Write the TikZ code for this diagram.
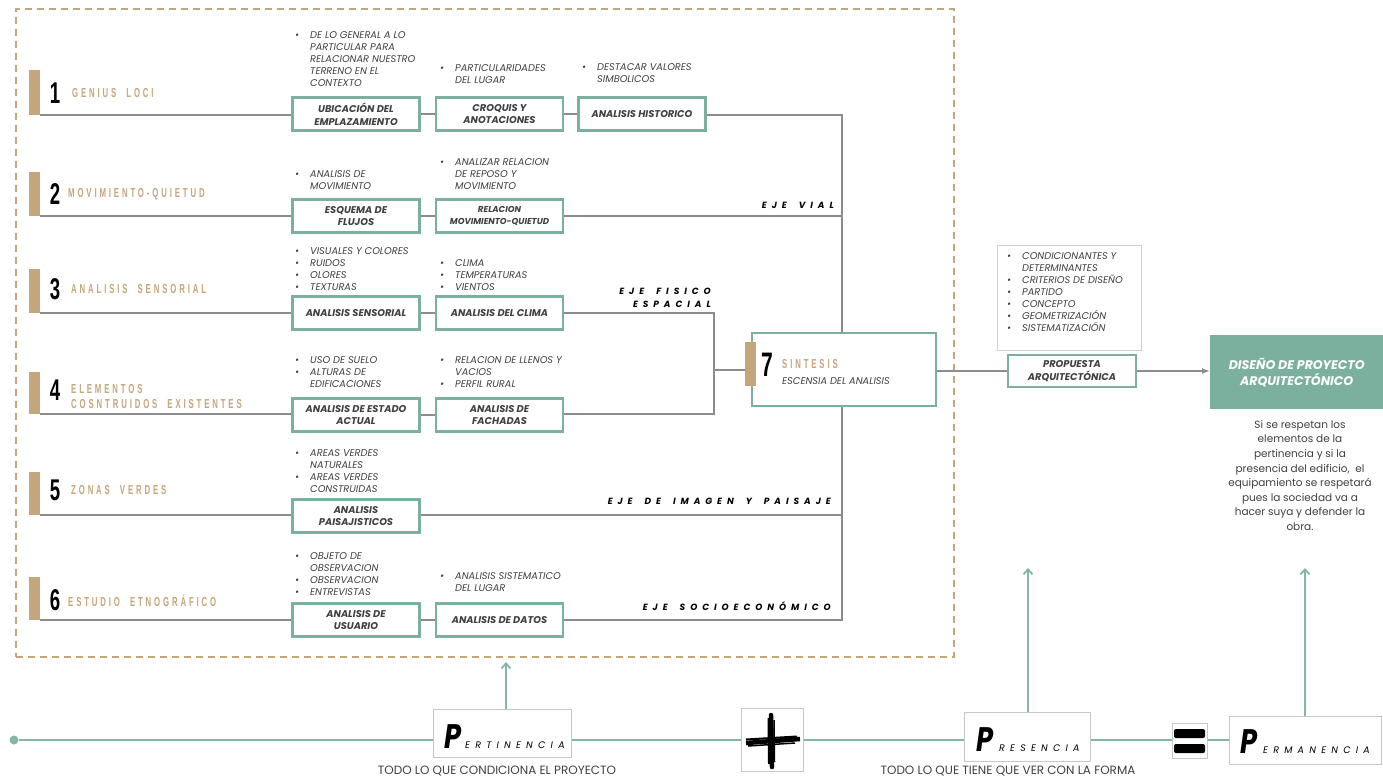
\documentclass[tikz,border=0pt]{standalone}
\usepackage{fontspec}
\setmainfont{Poppins}
\newfontfamily\condfont[FakeStretch=0.6,LetterSpace=22]{Liberation Sans}
\newfontfamily\numfont[FakeStretch=0.62]{Liberation Sans}
\newfontfamily\ejefont[LetterSpace=55]{Poppins}
\newfontfamily\pfont[FakeStretch=0.8]{Poppins}
\newfontfamily\capfont{Poppins}
\usetikzlibrary{arrows.meta}
\definecolor{tanc}{RGB}{196,166,124}
\definecolor{grn}{RGB}{124,176,158}
\definecolor{lgrn}{RGB}{132,182,166}
\definecolor{lnc}{RGB}{140,140,140}
\definecolor{txt}{RGB}{64,64,64}
\newcommand{\bi}{\makebox[16pt][l]{\hspace{1pt}\textbullet}}
\newcommand{\bc}{\hspace*{16pt}}
\newcommand{\fs}{\rule{0pt}{9.5pt}}
\newcommand{\ws}{\hspace{5pt} }
\begin{document}
\begin{tikzpicture}[x=1pt,y=-1pt,
 abox/.style={draw=grn, line width=2.4pt, fill=white, minimum width=127pt, minimum height=33pt, inner sep=1pt, align=center, text=txt, font=\fontsize{9.8}{12.5}\selectfont\bfseries\itshape},
 blist/.style={anchor=north west, inner sep=0pt, align=left, text=txt, font=\fontsize{9.8}{12}\selectfont\itshape},
 rl/.style={draw=lnc, line width=1.3pt},
 tbar/.style={fill=tanc, inner sep=0, minimum width=11pt},
 num/.style={inner sep=0, font=\numfont\fontsize{30}{30}\selectfont\bfseries},
 rowlab/.style={anchor=west, inner sep=0, align=left, text=tanc, font=\condfont\fontsize{13}{15}\selectfont\bfseries},
 eje/.style={anchor=base east, inner sep=0, font=\ejefont\fontsize{9}{13}\selectfont\bfseries\itshape},
 pbox/.style={draw=black!22, line width=0.8pt, fill=white, inner sep=0},
 garrow/.style={draw=lgrn, line width=1.8pt, -{Straight Barb[length=5pt,width=9pt]}},
 bigp/.style={inner sep=0, font=\pfont\fontsize{34}{34}\selectfont\bfseries\itshape},
 smallp/.style={inner sep=0, font=\ejefont\fontsize{9.5}{12}\selectfont\itshape},
 gline/.style={draw=lgrn, line width=2.6pt}
]
\useasboundingbox (0,0) rectangle (1383,780);
\fill[white] (0,0) rectangle (1383,780);

% frame
\node[draw=tanc, dash pattern=on 7pt off 5pt, line width=1.6pt, minimum width=938pt, minimum height=648pt, anchor=north west, inner sep=0] (frame) at (15,8) {};

% collector coordinates
\coordinate (v1) at (842,115);
\coordinate (v2) at (842,216);
\coordinate (v5) at (842,515);
\coordinate (v6) at (842,620);
\coordinate (c3) at (714,313);
\coordinate (c4) at (714,414);
\coordinate (c34) at (714,370);

% bars and numbers
\node[tbar, minimum height=45pt, anchor=south west] (bar1) at (29,115) {};
\node[tbar, minimum height=44pt, anchor=south west] (bar2) at (29,216) {};
\node[tbar, minimum height=44pt, anchor=south west] (bar3) at (29,313) {};
\node[tbar, minimum height=42pt, anchor=south west] (bar4) at (29,414) {};
\node[tbar, minimum height=43pt, anchor=south west] (bar5) at (29,515) {};
\node[tbar, minimum height=43pt, anchor=south west] (bar6) at (29,620) {};
\node[num] (n1) at (55,93) {1};
\node[num] (n2) at (55,194) {2};
\node[num] (n3) at (55,289) {3};
\node[num] (n4) at (55,390) {4};
\node[num] (n5) at (55,490) {5};
\node[num] (n6) at (55,600) {6};
\node[rowlab] (l1) at (72,93) {GENIUS\ws LOCI};
\node[rowlab] (l2) at (68,194) {MOVIMIENTO-QUIETUD};
\node[rowlab] (l3) at (71,289) {ANALISIS\ws SENSORIAL};
\node[rowlab] (l4) at (71,397) {ELEMENTOS\\COSNTRUIDOS\ws EXISTENTES};
\node[rowlab] (l5) at (71,490) {ZONAS\ws VERDES};
\node[rowlab] (l6) at (68,601) {ESTUDIO\ws ETNOGRÁFICO};

% boxes
\node[abox] (b11) at (356,114) {UBICACIÓN DEL\\EMPLAZAMIENTO};
\node[abox] (b12) at (499.5,114) {CROQUIS Y\\ANOTACIONES};
\node[abox] (b13) at (642,114) {ANALISIS HISTORICO};
\node[abox] (b21) at (356,216) {ESQUEMA DE\\FLUJOS};
\node[abox, font=\fontsize{8.6}{12}\selectfont\bfseries\itshape] (b22) at (499.5,216) {RELACION\\MOVIMIENTO-QUIETUD};
\node[abox] (b31) at (356,313) {ANALISIS SENSORIAL};
\node[abox] (b32) at (499.5,313) {ANALISIS DEL CLIMA};
\node[abox] (b41) at (356,415) {ANALISIS DE ESTADO\\ACTUAL};
\node[abox] (b42) at (499.5,415) {ANALISIS DE\\FACHADAS};
\node[abox] (b51) at (356,516) {ANALISIS\\PAISAJISTICOS};
\node[abox] (b61) at (356,620) {ANALISIS DE\\USUARIO};
\node[abox] (b62) at (499.5,620) {ANALISIS DE DATOS};

% row lines
\draw[rl] (bar1.south east) -- (bar1.south east -| b11.west);
\draw[rl] (b11.east) -- (b12.west);
\draw[rl] (b12.east) -- (b13.west);
\draw[rl] (b13.east |- v1) -- (v1) -- (v6) -- (b62.east |- v6);
\draw[rl] (bar2.south east) -- (bar2.south east -| b21.west);
\draw[rl] (b21.east) -- (b22.west);
\draw[rl] (b22.east) -- (v2);
\draw[rl] (bar3.south east) -- (bar3.south east -| b31.west);
\draw[rl] (b31.east) -- (b32.west);
\draw[rl] (b32.east |- c3) -- (c3) -- (c4) -- (b42.east |- c4);
\draw[rl] (bar4.south east) -- (bar4.south east -| b41.west);
\draw[rl] (b41.east) -- (b42.west);
\draw[rl] (bar5.south east) -- (bar5.south east -| b51.west);
\draw[rl] (b51.east |- v5) -- (v5);
\draw[rl] (bar6.south east) -- (bar6.south east -| b61.west);
\draw[rl] (b61.east) -- (b62.west);

% bullet lists
\node[blist] (t11) at (294,29) {\fs\bi DE LO GENERAL A LO\\\bc PARTICULAR PARA\\\bc RELACIONAR NUESTRO\\\bc TERRENO EN EL\\\bc CONTEXTO};
\node[blist] (t12) at (439,62) {\fs\bi PARTICULARIDADES\\\bc DEL LUGAR};
\node[blist] (t13) at (581,61) {\fs\bi DESTACAR VALORES\\\bc SIMBOLICOS};
\node[blist] (t21) at (294,168) {\fs\bi ANALISIS DE\\\bc MOVIMIENTO};
\node[blist] (t22) at (439,156) {\fs\bi ANALIZAR RELACION\\\bc DE REPOSO Y\\\bc MOVIMIENTO};
\node[blist] (t31) at (294,245) {\fs\bi VISUALES Y COLORES\\\bi RUIDOS\\\bi OLORES\\\bi TEXTURAS};
\node[blist] (t32) at (439,257) {\fs\bi CLIMA\\\bi TEMPERATURAS\\\bi VIENTOS};
\node[blist] (t41) at (294,354) {\fs\bi USO DE SUELO\\\bi ALTURAS DE\\\bc EDIFICACIONES};
\node[blist] (t42) at (439,354) {\fs\bi RELACION DE LLENOS Y\\\bc VACIOS\\\bi PERFIL RURAL};
\node[blist] (t51) at (294,447) {\fs\bi AREAS VERDES\\\bc NATURALES\\\bi AREAS VERDES\\\bc CONSTRUIDAS};
\node[blist] (t61) at (294,550) {\fs\bi OBJETO DE\\\bc OBSERVACION\\\bi OBSERVACION\\\bi ENTREVISTAS};
\node[blist] (t62) at (439,570) {\fs\bi ANALISIS SISTEMATICO\\\bc DEL LUGAR};

% eje labels
\node[eje] (e1) at (834,208) {EJE\ws VIAL};
\node[eje] (e2) at (711,294) {EJE\ws FISICO};
\node[eje] (e3) at (711,307) {ESPACIAL};
\node[eje] (e4) at (831,504) {EJE\ws DE\ws IMAGEN\ws Y\ws PAISAJE};
\node[eje] (e5) at (831,610) {EJE\ws SOCIOECONÓMICO};

% sintesis
\node[draw=grn, line width=2.4pt, fill=white, minimum width=184pt, minimum height=73pt, anchor=north west, inner sep=0] (s7) at (751,332) {};
\node[tbar, minimum height=44pt] (s7bar) at (750.5,364) {};
\draw[rl] (c34) -- (c34 -| s7bar.west);
\node[num, font=\numfont\fontsize{34}{34}\selectfont\bfseries] (n7) at (767,365) {7};
\node[rowlab] (l7) at (782,364) {SINTESIS};
\node[anchor=west, inner sep=0, text=txt, font=\fontsize{9.8}{10}\selectfont\itshape] (l7b) at (782,381) {ESCENSIA DEL ANALISIS};

% propuesta
\node[draw=black!18, line width=0.8pt, minimum width=144pt, minimum height=105pt, anchor=north west, inner sep=0] (cbox) at (997,245) {};
\node[blist] (tc) at (1006,250) {\fs\bi CONDICIONANTES Y\\\bc DETERMINANTES\\\bi CRITERIOS DE DISEÑO\\\bi PARTIDO\\\bi CONCEPTO\\\bi GEOMETRIZACIÓN\\\bi SISTEMATIZACIÓN};
\node[abox, minimum width=128pt, minimum height=32pt] (prop) at (1072,371) {PROPUESTA\\ARQUITECTÓNICA};
\draw[rl] (s7.east |- prop.west) -- (prop.west);
\node[fill=grn, minimum width=173pt, minimum height=74pt, anchor=north west, inner sep=0, align=center, text=white, font=\fontsize{12.5}{16}\selectfont\bfseries\itshape] (dis) at (1210,335) {DISEÑO DE PROYECTO\\ARQUITECTÓNICO};
\draw[rl, -{Latex[length=8pt,width=6pt]}] (prop.east) -- (prop.east -| dis.west);
\node[anchor=north, inner sep=0, align=center, text=txt, font=\fontsize{10.5}{14.6}\selectfont] (par) at (1300,420) {Si se respetan los\\elementos de la\\pertinencia y si la\\presencia del edificio,\ \ el\\equipamiento se respetará\\pues la sociedad va a\\hacer suya y defender la\\obra.};

% bottom line
\node[circle, fill=lgrn, minimum size=9pt, inner sep=0] (dot) at (14,740) {};
\node[pbox, minimum width=138pt, minimum height=48pt, anchor=north west] (pert) at (433,709) {};
\node[pbox, minimum width=62pt, minimum height=63pt, anchor=north west] (plus) at (741,708) {};
\node[pbox, minimum width=126pt, minimum height=49pt, anchor=north west] (pres) at (964,712) {};
\node[pbox, minimum width=35pt, minimum height=35pt, anchor=north west] (eq) at (1172,723) {};
\node[pbox, minimum width=152pt, minimum height=48pt, anchor=north west] (perm) at (1229,716) {};
\draw[gline] (dot.east) -- (dot -| pert.west);
\draw[gline] (pert.east |- dot) -- (plus.west |- dot);
\draw[gline] (plus.east |- dot) -- (pres.west |- dot);
\draw[gline] (pres.east |- dot) -- (eq.west |- dot);
\draw[gline] (eq.east |- dot) -- (perm.west |- dot);

% P words
\node[bigp, anchor=base west] (p1) at (444,748) {P};
\node[smallp, anchor=base west] (p1b) at (465,748) {ERTINENCIA};
\node[bigp, anchor=base west] (p2) at (976,751) {P};
\node[smallp, anchor=base west] (p2b) at (999,751) {RESENCIA};
\node[bigp, anchor=base west] (p3) at (1240,753) {P};
\node[smallp, anchor=base west] (p3b) at (1263,753) {ERMANENCIA};

% plus and equals (brush strokes)
\draw[black, line width=4.5pt, line cap=round] (771,715) -- (772,767);
\draw[black, line width=2pt] (768.5,718) -- (769,764);
\draw[black, line width=1.5pt] (774,720) -- (774.5,762);
\draw[black, line width=4.5pt] (746,743) -- (800,739);
\draw[black, line width=2pt] (746,739.5) -- (797,736.5);
\draw[black, line width=1.5pt] (748,746) -- (795,743);
\fill[black, rounded corners=2pt] (1174,729) rectangle (1205,738);
\fill[black, rounded corners=2pt] (1174,744) rectangle (1205,753);

% arrows up
\coordinate (ta) at (506,662);
\coordinate (tb) at (1028,568);
\coordinate (tc2) at (1305,568);
\draw[garrow] (pert.north -| ta) -- (ta);
\draw[garrow] (pres.north -| tb) -- (tb);
\draw[garrow] (perm.north -| tc2) -- (tc2);

% captions
\node[inner sep=0, text=txt, font=\capfont\fontsize{12}{12}\selectfont] (cap1) at (497,771) {TODO LO QUE CONDICIONA EL PROYECTO};
\node[inner sep=0, text=txt, font=\capfont\fontsize{12}{12}\selectfont] (cap2) at (1008,771) {TODO LO QUE TIENE QUE VER CON LA FORMA};
\end{tikzpicture}
\end{document}
